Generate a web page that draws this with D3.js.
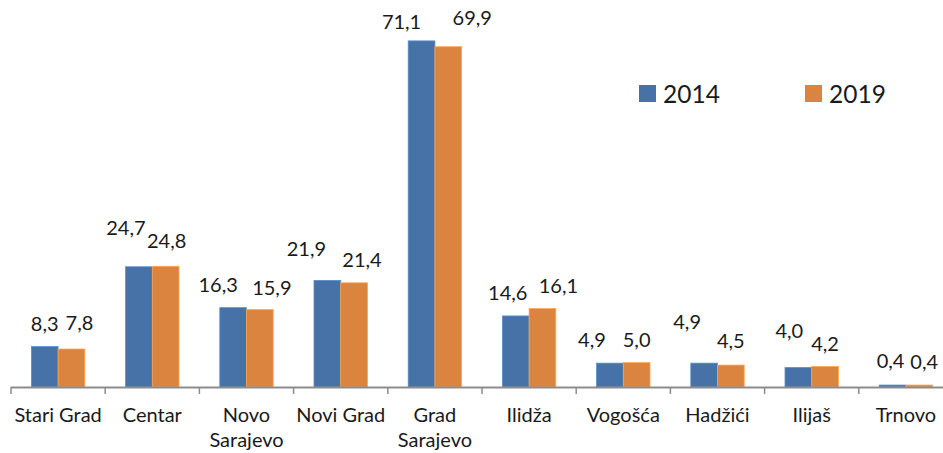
<!DOCTYPE html>
<html>
<head>
<meta charset="utf-8">
<script src="https://cdn.jsdelivr.net/npm/d3@7"></script>
<style>
  body { margin: 0; background: #fff; }
  svg { display: block; font-family: Lato, 'Open Sans', sans-serif; }
  .cat, .val { fill: #1a1a1a; font-size: 20px; }
  .legend text { fill: #1a1a1a; font-size: 24.5px; }
</style>
</head>
<body>
<svg id="chart" width="943" height="453"></svg>
<script>
const categories = ['Stari Grad', 'Centar', 'Novo Sarajevo', 'Novi Grad', 'Grad Sarajevo',
  'Ilidža', 'Vogošća', 'Hadžići', 'Ilijaš', 'Trnovo'];
const series = ['2014', '2019'];
const values2014 = [8.3, 24.7, 16.3, 21.9, 71.1, 14.6, 4.9, 4.9, 4.0, 0.4];
const values2019 = [7.8, 24.8, 15.9, 21.4, 69.9, 16.1, 5.0, 4.5, 4.2, 0.4];

// hand-moved data labels in the original (pixel nudges from the default spot)
const labelNudge2014 = [[0, 0], [-13, -16], [-15, 0], [-21, -8], [-20, 4], [-8, 0], [-18, 0], [-17, -18], [-9, -14], [-2, -1]];
const labelNudge2019 = [[8, -3], [1, -2], [12, 1], [8, 0], [24, -6], [16, 0], [0, 0], [0, -1], [0, 0], [5, 0]];

const colors = d3.scaleOrdinal().domain(series).range(['#4672a8', '#db843f']);
const fmt = (v) => v.toFixed(1).replace('.', ',');

const svg = d3.select('#chart');

let x0 = d3.scaleBand().domain(categories).range([11, 953]).paddingInner(0).paddingOuter(0);
let x1 = d3.scaleBand().domain(series).range([0, x0.bandwidth()]).paddingInner(0).paddingOuter(0.764);
let y = d3.scaleLinear().domain([0, 79.5]).range([387, 0]);

const rows = categories.map((c, i) => ({
  cat: c,
  vals: [
    { s: '2014', v: values2014[i], nudge: labelNudge2014[i] },
    { s: '2019', v: values2019[i], nudge: labelNudge2019[i] },
  ],
}));

const groups = svg.selectAll('g.grp')
  .data(rows)
  .join('g')
  .attr('class', 'grp')
  .attr('transform', (d) => `translate(${x0(d.cat)},0)`);

groups.selectAll('rect')
  .data((d) => d.vals)
  .join('rect')
  .attr('x', (d) => x1(d.s))
  .attr('y', (d) => y(d.v))
  .attr('width', x1.bandwidth())
  .attr('height', (d) => y(0) - y(d.v))
  .attr('fill', (d) => colors(d.s))
  .attr('stroke', (d) => d3.color(colors(d.s)).brighter(0.6))
  .attr('stroke-width', 0.8);

groups.selectAll('text.val')
  .data((d) => d.vals)
  .join('text')
  .attr('class', 'val')
  .attr('text-anchor', 'middle')
  .attr('x', (d) => x1(d.s) + x1.bandwidth() / 2 + d.nudge[0])
  .attr('y', (d) => y(d.v) - 16 + d.nudge[1])
  .text((d) => fmt(d.v));

// x axis: baseline with ticks at category boundaries
const axis = svg.append('g').attr('class', 'axis');
axis.append('line')
  .attr('x1', x0.range()[0]).attr('x2', 943)
  .attr('y1', y(0) + 0.5).attr('y2', y(0) + 0.5)
  .attr('stroke', '#8c8c8c').attr('stroke-width', 2);

const bounds = categories.map((c) => x0(c)).concat([x0.range()[1]]);
axis.selectAll('line.tick')
  .data(bounds)
  .join('line')
  .attr('class', 'tick')
  .attr('x1', (d) => d).attr('x2', (d) => d)
  .attr('y1', y(0)).attr('y2', y(0) + 7)
  .attr('stroke', '#8c8c8c').attr('stroke-width', 1.5);

const catText = svg.selectAll('text.cat')
  .data(categories)
  .join('text')
  .attr('class', 'cat')
  .attr('text-anchor', 'middle')
  .attr('x', (d) => x0(d) + x0.bandwidth() / 2)
  .attr('y', 422);

catText.each(function (d) {
  const t = d3.select(this);
  const cx = x0(d) + x0.bandwidth() / 2;
  const words = (d === 'Novo Sarajevo' || d === 'Grad Sarajevo') ? d.split(' ') : [d];
  words.forEach((w, i) => {
    t.append('tspan').attr('x', cx).attr('dy', i === 0 ? 0 : 24.5).text(w);
  });
});

// legend
const legend = svg.append('g').attr('class', 'legend');
const legendX = d3.scalePoint().domain(series).range([639, 805]);
const items = legend.selectAll('g')
  .data(series)
  .join('g')
  .attr('transform', (d) => `translate(${legendX(d)},85)`);
items.append('rect')
  .attr('width', 17).attr('height', 17)
  .attr('fill', (d) => colors(d));
items.append('text')
  .attr('x', 24).attr('y', 17.5)
  .text((d) => d);
</script>
</body>
</html>
